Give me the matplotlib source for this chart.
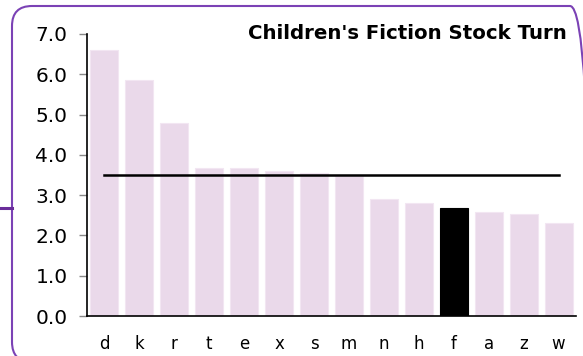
import matplotlib
matplotlib.use("Agg")
import matplotlib.pyplot as plt
from matplotlib.patches import FancyBboxPatch
from matplotlib.lines import Line2D
from matplotlib.transforms import IdentityTransform

# Данные
stores = ["d", "k", "r", "t", "e", "x", "s", "m", "n", "h", "f", "a", "z", "w"]
turn = [6.6, 5.86, 4.79, 3.67, 3.67, 3.59, 3.55, 3.47, 2.9, 2.8, 2.68, 2.58, 2.53, 2.31]
highlight = "f"
target = 3.5
yticks = [0, 1, 2, 3, 4, 5, 6, 7]

fig = plt.figure(figsize=(5.83, 3.56), dpi=100)
ax = fig.add_axes([87 / 583, 1 - 316 / 356, (576 - 87) / 583, (316 - 34) / 356])

colors = ["black" if s == highlight else "#ead9ea" for s in stores]
edges = ["black" if s == highlight else "#f2e6f2" for s in stores]
x = range(len(stores))
ax.bar(x, turn, width=0.8, color=colors, edgecolor=edges, linewidth=0.8)
ax.plot([0, len(stores) - 1], [target, target], color="black", lw=1.8)

ax.set_xlim(-0.5, len(stores) - 0.5)
ax.set_ylim(0, 7)
ax.set_yticks(yticks)
ax.set_yticklabels([f"{v:.1f}" for v in yticks], fontsize=14.5)
ax.set_xticks(list(x))
ax.set_xticklabels(stores, fontsize=12)
ax.tick_params(axis="y", length=6, color="#888888", width=1, pad=8)
ax.tick_params(axis="x", length=0, pad=14)
for sp in ["top", "right"]:
    ax.spines[sp].set_visible(False)
ax.spines["left"].set_linewidth(1.2)
ax.spines["bottom"].set_linewidth(1.2)

ax.text(0.982, 1.0, "Children's Fiction Stock Turn", transform=ax.transAxes,
        ha="right", va="center", fontsize=14.2, fontweight="bold")

# рамка
frame = FancyBboxPatch((12, -6), 578, 356, boxstyle="round,pad=0,rounding_size=20",
                       transform=IdentityTransform(), fill=False,
                       edgecolor="#7b42b5", lw=1.5)
fig.patches.append(frame)
fig.lines.append(Line2D([0, 12], [148, 148], transform=IdentityTransform(),
                        color="#6a2d9a", lw=2.2))

fig.savefig("out.png", dpi=100)
